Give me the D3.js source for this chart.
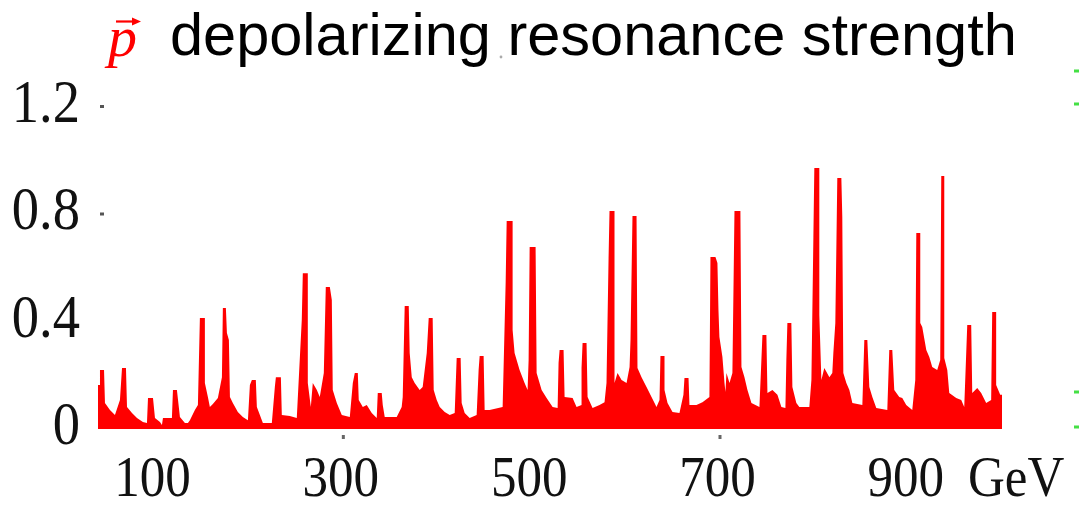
<!DOCTYPE html>
<html>
<head>
<meta charset="utf-8">
<script src="https://cdn.jsdelivr.net/npm/d3@7"></script>
<style>
  html, body { margin: 0; padding: 0; background: #fff; }
  svg { display: block; }
</style>
</head>
<body>
<svg id="chart" width="1079" height="509"></svg>
<script>
// Beam energy (GeV) along the scan and the matching resonance strength.
const energy = [
  40.0, 42.1, 42.1, 46.4, 47.4, 52.7, 58.0, 63.3, 65.5, 69.7, 70.8, 76.1, 81.4, 87.7, 92.0,
  93.1, 98.4, 100.5, 105.8, 107.9, 109.0, 118.5, 119.6, 123.8, 127.0, 132.3, 135.5, 137.6, 142.9, 146.1,
  148.2, 153.5, 153.5, 156.7, 158.8, 162.0, 167.3, 171.6, 172.6, 175.8, 176.9, 179.0, 180.1, 183.2, 188.5,
  193.8, 199.2, 201.3, 203.4, 207.6, 208.7, 211.9, 215.1, 224.6, 227.8, 228.9, 234.2, 235.2, 243.7, 251.1,
  256.4, 257.5, 262.8, 262.8, 266.0, 268.1, 272.4, 275.5, 279.8, 281.9, 286.2, 288.3, 289.3, 293.6, 298.9,
  307.4, 310.6, 312.7, 315.9, 316.9, 321.2, 325.4, 330.7, 336.0, 337.1, 341.3, 342.4, 344.5, 357.2, 362.5,
  363.6, 365.7, 370.0, 371.0, 373.2, 376.3, 381.6, 384.8, 389.1, 391.2, 395.4, 396.5, 399.7, 402.9, 408.2,
  413.5, 418.8, 420.9, 425.1, 426.2, 429.4, 434.7, 442.1, 444.2, 445.3, 449.5, 450.6, 455.9, 469.7, 472.9,
  474.0, 480.3, 480.3, 482.4, 487.7, 493.0, 496.2, 497.3, 498.4, 504.7, 505.8, 511.1, 516.4, 522.8, 528.1,
  529.1, 530.2, 534.4, 535.5, 544.0, 548.2, 553.5, 553.5, 554.6, 558.8, 559.9, 565.2, 572.6, 577.9, 580.0,
  582.2, 583.2, 588.5, 588.5, 591.7, 596.0, 601.3, 604.5, 605.5, 607.6, 611.9, 612.9, 617.2, 622.5, 627.8,
  633.1, 636.3, 637.3, 641.6, 641.6, 644.8, 650.1, 657.5, 661.7, 662.8, 667.1, 668.1, 675.5, 681.9, 689.3,
  690.4, 695.7, 697.8, 698.9, 699.9, 703.1, 705.3, 706.3, 707.4, 710.6, 713.7, 715.9, 722.2, 723.3, 726.5,
  729.7, 733.9, 742.4, 744.5, 745.6, 749.8, 750.9, 756.2, 761.5, 765.7, 770.0, 771.0, 772.1, 776.3, 777.4,
  781.6, 784.8, 795.4, 797.6, 799.7, 800.7, 806.0, 806.0, 808.2, 811.3, 816.7, 819.8, 820.9, 823.0, 825.1,
  829.4, 830.4, 831.5, 834.7, 837.9, 841.1, 851.7, 853.8, 857.0, 859.1, 862.3, 866.5, 878.2, 880.3, 883.5,
  885.6, 890.9, 894.1, 898.3, 904.7, 907.9, 909.0, 913.2, 913.2, 915.3, 919.6, 922.8, 925.9, 931.2, 934.4,
  935.5, 938.7, 938.7, 941.9, 944.0, 951.4, 956.7, 959.9, 963.1, 967.3, 968.4, 973.7, 977.9, 983.2, 988.5,
  989.6, 993.8, 993.8, 998.1, 1000.0
];
const strength = [
  0.164, 0.164, 0.220, 0.220, 0.097, 0.071, 0.052, 0.108, 0.227, 0.227, 0.082, 0.060, 0.041, 0.026, 0.022,
  0.115, 0.115, 0.041, 0.026, 0.015, 0.041, 0.041, 0.145, 0.145, 0.045, 0.022, 0.022, 0.033, 0.071, 0.089,
  0.413, 0.413, 0.171, 0.119, 0.082, 0.093, 0.115, 0.193, 0.450, 0.450, 0.357, 0.331, 0.119, 0.097, 0.063,
  0.045, 0.033, 0.164, 0.182, 0.182, 0.082, 0.052, 0.022, 0.022, 0.156, 0.193, 0.193, 0.052, 0.048, 0.041,
  0.406, 0.580, 0.580, 0.171, 0.082, 0.171, 0.145, 0.119, 0.208, 0.528, 0.528, 0.480, 0.145, 0.097, 0.052,
  0.045, 0.171, 0.208, 0.208, 0.108, 0.082, 0.089, 0.060, 0.041, 0.134, 0.134, 0.089, 0.045, 0.045, 0.082,
  0.119, 0.458, 0.458, 0.283, 0.193, 0.171, 0.145, 0.156, 0.283, 0.413, 0.413, 0.145, 0.108, 0.082, 0.063,
  0.052, 0.060, 0.264, 0.264, 0.097, 0.060, 0.041, 0.052, 0.220, 0.272, 0.272, 0.071, 0.071, 0.082, 0.543,
  0.774, 0.774, 0.368, 0.283, 0.220, 0.171, 0.145, 0.257, 0.677, 0.677, 0.208, 0.145, 0.115, 0.082, 0.078,
  0.246, 0.294, 0.294, 0.119, 0.115, 0.082, 0.089, 0.227, 0.320, 0.320, 0.119, 0.078, 0.089, 0.100, 0.171,
  0.636, 0.811, 0.811, 0.171, 0.208, 0.182, 0.171, 0.231, 0.331, 0.793, 0.793, 0.227, 0.193, 0.156, 0.119,
  0.082, 0.108, 0.272, 0.272, 0.145, 0.097, 0.063, 0.060, 0.127, 0.190, 0.190, 0.089, 0.089, 0.100, 0.119,
  0.640, 0.640, 0.618, 0.443, 0.342, 0.268, 0.171, 0.138, 0.208, 0.171, 0.208, 0.811, 0.811, 0.231, 0.193,
  0.145, 0.097, 0.082, 0.257, 0.350, 0.350, 0.134, 0.145, 0.127, 0.082, 0.078, 0.257, 0.394, 0.394, 0.156,
  0.097, 0.082, 0.082, 0.182, 0.714, 0.971, 0.971, 0.424, 0.182, 0.227, 0.193, 0.208, 0.283, 0.394, 0.934,
  0.934, 0.789, 0.208, 0.171, 0.145, 0.097, 0.089, 0.331, 0.331, 0.156, 0.119, 0.078, 0.071, 0.294, 0.294,
  0.145, 0.119, 0.115, 0.089, 0.071, 0.182, 0.729, 0.729, 0.394, 0.380, 0.294, 0.268, 0.231, 0.220, 0.257,
  0.941, 0.941, 0.264, 0.220, 0.134, 0.115, 0.108, 0.082, 0.387, 0.387, 0.134, 0.153, 0.134, 0.097, 0.108,
  0.435, 0.435, 0.164, 0.127, 0.127
];

// Axis labels.
const yTickValues = [0, 0.4, 0.8, 1.2];
const yTickLabels = ["0", "0.4", "0.8", "1.2"];
const yTickMarks = [0.8, 1.2];
const xTickValues = [100, 300, 500, 700, 900];
const xTickLabels = ["100", "300", "500", "700", "900"];
const xTickMarks = [300, 700];
const xUnit = "GeV";
const titleText = "depolarizing resonance strength";
const particleSymbol = "p";

const svg = d3.select("#chart");
svg.append("rect").attr("width", 1079).attr("height", 509).attr("fill", "#fff");

const x = d3.scaleLinear().domain([40, 1000]).range([98, 1002]);
const y = d3.scaleLinear().domain([0, 1.2]).range([429, 106.5]);

const points = d3.zip(energy, strength);

// Filled resonance-strength profile.
const area = d3.area()
  .x(d => x(d[0]))
  .y0(y(0))
  .y1(d => y(d[1]));

svg.append("path")
  .datum(points)
  .attr("d", area)
  .attr("fill", "#ff0000");

// Serif numerals are drawn slightly condensed.
const serif = "'Liberation Serif', 'Times New Roman', serif";
const squeeze = 0.88;

function condensedText(g, tx, ty, text, anchor, size) {
  g.append("g")
    .attr("transform", `translate(${tx},${ty}) scale(${squeeze},1)`)
    .append("text")
    .attr("x", 0).attr("y", 0)
    .attr("text-anchor", anchor)
    .attr("font-family", serif)
    .attr("font-size", size)
    .attr("fill", "#111")
    .text(text);
}

// Y axis labels and tick dots.
const yAxis = svg.append("g");
yTickValues.forEach((v, i) => condensedText(yAxis, 80, y(v) + 15, yTickLabels[i], "end", 62));
yAxis.selectAll("rect.ytick")
  .data(yTickMarks)
  .join("rect")
  .attr("class", "ytick")
  .attr("x", x(40) + 2)
  .attr("y", d => y(d) - 1.5)
  .attr("width", 4).attr("height", 3)
  .attr("fill", "#555");

// X axis labels, unit and tick dots.
const xAxis = svg.append("g");
xTickValues.forEach((v, i) => condensedText(xAxis, x(v) - 2, 496, xTickLabels[i], "middle", 58));
condensedText(xAxis, 968, 496, xUnit, "start", 58);
xAxis.selectAll("rect.xtick")
  .data(xTickMarks)
  .join("rect")
  .attr("class", "xtick")
  .attr("x", d => x(d) - 1)
  .attr("y", y(0) + 6)
  .attr("width", 3).attr("height", 4)
  .attr("fill", "#666");

// Title with the polarized proton symbol.
const title = svg.append("g");
title.append("text")
  .attr("x", 108).attr("y", 56)
  .attr("font-family", serif)
  .attr("font-style", "italic")
  .attr("font-size", 58)
  .attr("fill", "#ff0000")
  .text(particleSymbol);
title.append("line")
  .attr("x1", 116).attr("y1", 21.5).attr("x2", 134).attr("y2", 21.5)
  .attr("stroke", "#ff0000").attr("stroke-width", 2.2);
title.append("path")
  .attr("d", "M132,17.5 L141,21.5 L132,25.5 Z")
  .attr("fill", "#ff0000");
title.append("text")
  .attr("x", 170).attr("y", 55)
  .attr("font-family", "'Liberation Sans', Arial, sans-serif")
  .attr("font-size", 59.5)
  .attr("fill", "#000")
  .text(titleText);
title.append("circle")
  .attr("cx", 501).attr("cy", 57).attr("r", 1.4)
  .attr("fill", "#aaa");

// Small green markers along the right edge.
const edgeMarks = [71, 104, 392, 427];
svg.append("g").selectAll("rect")
  .data(edgeMarks)
  .join("rect")
  .attr("x", 1074).attr("y", d => d - 1.5)
  .attr("width", 5).attr("height", 3)
  .attr("fill", "#44e044");
</script>
</body>
</html>
